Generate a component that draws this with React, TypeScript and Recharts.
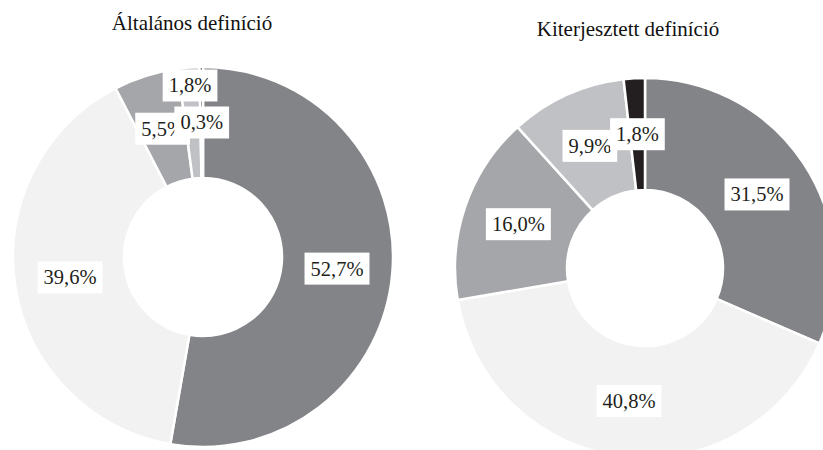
import React from 'react';
import { PieChart, Pie, Cell } from 'recharts';

const categories = ['1. kategória', '2. kategória', '3. kategória', '4. kategória', '5. kategória'];
const generalValues = [52.7, 39.6, 5.5, 1.8, 0.3];
const extendedValues = [31.5, 40.8, 16.0, 9.9, 1.8];
const titles = ['Általános definíció', 'Kiterjesztett definíció'];
const colors = ['#838488', '#f1f2f1', '#a5a6aa', '#c0c1c4', '#231f20'];

const W = 823;
const H = 450;
const FONT = "'Liberation Serif', 'Times New Roman', serif";
const LABEL_SIZE = 20.5;
const TITLE_SIZE = 21;
const BOX_H = 32;

const CHARW: Record<string, number> = { ',': 0.25, '%': 0.833 };
const fmt = (v: number) => v.toFixed(1).replace('.', ',') + '%';
const textW = (t: string, fs: number) =>
  t.split('').reduce((s, c) => s + (CHARW[c] ?? 0.5), 0) * fs;

type Placed = { x: number; y: number; w: number; h: number; text: string };

function layoutLabels(values: number[], cx: number, cy: number, ir: number, or: number): Placed[] {
  const total = values.reduce((a, b) => a + b, 0);
  let acc = 0;
  const placed: Placed[] = [];
  values.forEach((v, i) => {
    const mid = 90 - ((acc + v / 2) / total) * 360;
    acc += v;
    const rad = (mid * Math.PI) / 180;
    const text = fmt(v);
    const w = textW(text, LABEL_SIZE) + 12;
    const h = BOX_H;
    const rMid = (ir + or) / 2;
    let x = cx + rMid * Math.cos(rad);
    let y = cy - rMid * Math.sin(rad);
    const prev = placed[i - 1];
    if (prev) {
      const ox = Math.min(prev.x + prev.w / 2, x + w / 2) - Math.max(prev.x - prev.w / 2, x - w / 2);
      const oy = Math.min(prev.y + prev.h / 2, y + h / 2) - Math.max(prev.y - prev.h / 2, y - h / 2);
      if (ox > w / 3 && oy > 0) {
        const rOut = or - h / 2 - 2;
        x = cx + rOut * Math.cos(rad);
        y = cy - rOut * Math.sin(rad);
      }
    }
    placed.push({ x, y, w, h, text });
  });
  return placed;
}

const charts = [
  { title: titles[0], values: generalValues, cx: 203, cy: 257, ir: 79, or: 190, titleX: 192, titleY: 30 },
  { title: titles[1], values: extendedValues, cx: 645, cy: 268, ir: 78, or: 190, titleX: 628, titleY: 36 },
];

export default function App() {
  return (
    <div style={{ position: 'absolute', left: 0, top: 0, width: W, height: H, background: '#fff', overflow: 'hidden', fontFamily: FONT }}>
      <PieChart width={W} height={H} margin={{ top: 0, right: 0, bottom: 0, left: 0 }}>
        {charts.map((c, ci) => {
          const data = c.values.map((v, i) => ({ name: categories[i], value: v }));
          return (
            <Pie
              key={ci}
              data={data}
              dataKey="value"
              nameKey="name"
              cx={c.cx}
              cy={c.cy}
              innerRadius={c.ir}
              outerRadius={c.or}
              startAngle={90}
              endAngle={-270}
              isAnimationActive={false}
              label={false}
              labelLine={false}
            >
              {data.map((_, i) => (
                <Cell key={i} fill={colors[i]} stroke="#ffffff" strokeWidth={2.5} />
              ))}
            </Pie>
          );
        })}
      </PieChart>
      <svg width={W} height={H} style={{ position: 'absolute', left: 0, top: 0, pointerEvents: 'none', fontFamily: FONT }}>
        {charts.map((c, ci) => (
          <g key={ci}>
            <text x={c.titleX} y={c.titleY} textAnchor="middle" fontFamily={FONT} fontSize={TITLE_SIZE} fill="#111">
              {c.title}
            </text>
            {layoutLabels(c.values, c.cx, c.cy, c.ir, c.or).map((l, li) => (
              <g key={li}>
                <rect x={l.x - l.w / 2} y={l.y - l.h / 2} width={l.w} height={l.h} fill="#ffffff" />
                <text x={l.x} y={l.y + LABEL_SIZE * 0.34} textAnchor="middle" fontFamily={FONT} fontSize={LABEL_SIZE} fill="#231f20">
                  {l.text}
                </text>
              </g>
            ))}
          </g>
        ))}
      </svg>
    </div>
  );
}
